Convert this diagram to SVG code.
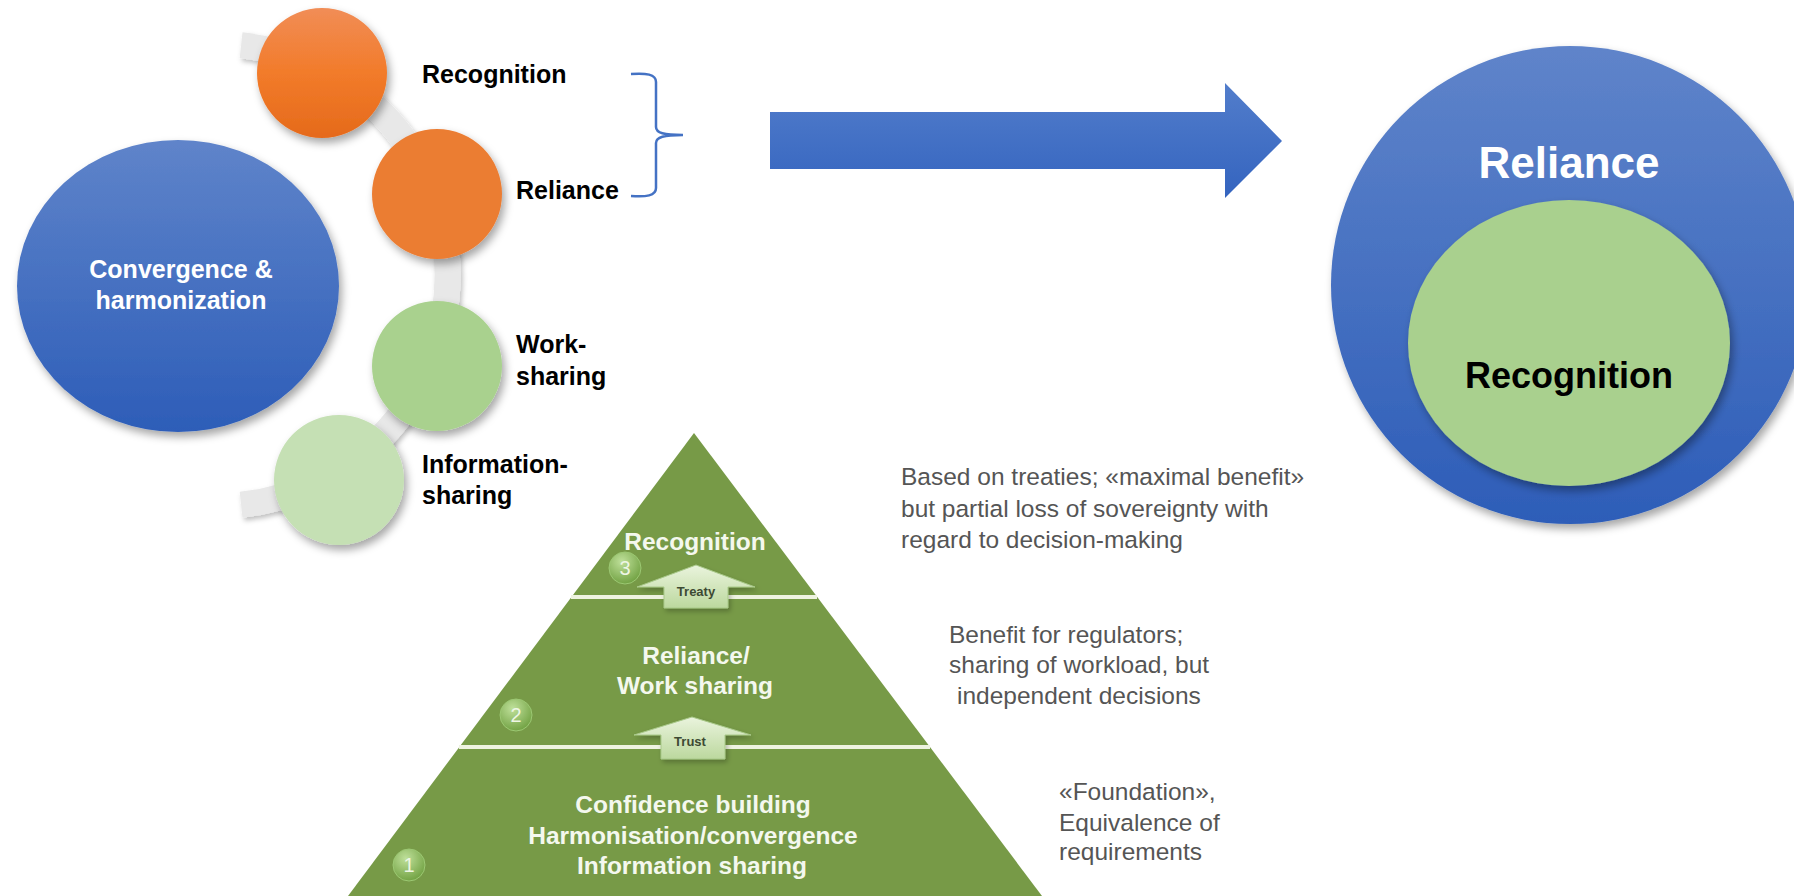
<svg xmlns="http://www.w3.org/2000/svg" width="1794" height="896" viewBox="0 0 1794 896">
  <defs>
    <style>
      .lbl { font-family: "Liberation Sans", Arial, sans-serif; font-weight: bold; font-size: 25px; fill: #000; }
      .inner { font-family: "Liberation Sans", Arial, sans-serif; font-weight: bold; fill: #fff; text-anchor: middle; }
      .pyr { font-family: "Liberation Sans", Arial, sans-serif; font-weight: bold; font-size: 24.5px; fill: #f4f8ee; text-anchor: middle; }
      .note { font-family: "Liberation Sans", Arial, sans-serif; font-size: 24.5px; fill: #555; }
      .tag { font-family: "Liberation Sans", Arial, sans-serif; font-weight: bold; font-size: 13px; fill: #3d4a33; text-anchor: middle; }
      .num { font-family: "Liberation Sans", Arial, sans-serif; font-size: 20px; fill: #eef6e4; text-anchor: middle; }
      .divider { stroke: #eef3e0; stroke-width: 4; }
      .up { fill: url(#gUp); stroke: #a9c98a; stroke-width: 1; filter: url(#shLight); }
      .badge { fill: url(#gNum); stroke: #9cc873; stroke-width: 1; }
    </style>
    <linearGradient id="gBlue" x1="0" y1="0" x2="0" y2="1">
      <stop offset="0" stop-color="#5f84ca"/>
      <stop offset="1" stop-color="#2d5db8"/>
    </linearGradient>
    <linearGradient id="gOrange" x1="0" y1="0" x2="0" y2="1">
      <stop offset="0" stop-color="#f18d56"/>
      <stop offset="0.5" stop-color="#f27b2a"/>
      <stop offset="1" stop-color="#e56a1b"/>
    </linearGradient>
    <linearGradient id="gArrow" x1="0" y1="0" x2="0" y2="1">
      <stop offset="0" stop-color="#527dcb"/>
      <stop offset="1" stop-color="#3464bf"/>
    </linearGradient>
    <linearGradient id="gUp" x1="0" y1="0" x2="0" y2="1">
      <stop offset="0" stop-color="#eaf4dd"/>
      <stop offset="1" stop-color="#bcd89e"/>
    </linearGradient>
    <radialGradient id="gNum" cx="0.4" cy="0.3" r="0.75">
      <stop offset="0" stop-color="#bfe09a"/>
      <stop offset="1" stop-color="#6e9f3f"/>
    </radialGradient>
    <filter id="sh" x="-20%" y="-20%" width="150%" height="150%">
      <feDropShadow dx="3" dy="5" stdDeviation="4" flood-color="#000" flood-opacity="0.35"/>
    </filter>
    <filter id="shLight" x="-20%" y="-20%" width="150%" height="150%">
      <feDropShadow dx="2" dy="3" stdDeviation="2.5" flood-color="#000" flood-opacity="0.25"/>
    </filter>
  </defs>

  <rect width="1794" height="896" fill="#fff"/>

  <!-- connectors: the curved band behind the small circles, the brace and the big arrow -->
  <g id="connectors">
    <path d="M241.1,45.3 A231,231 0 0 1 241.1,504.7" fill="none" stroke="#e8e8e8" stroke-width="26" filter="url(#shLight)"/>
    <path d="M631,74 C646,73 656,74 656,82 L656,127 C656,133 664,135 683,135 C664,135 656,137 656,143 L656,188 C656,196 646,197 631,196" fill="none" stroke="#4472c4" stroke-width="2.5"/>
    <polygon points="770,112 1225,112 1225,83 1282,141 1225,198 1225,169 770,169" fill="url(#gArrow)"/>
  </g>

  <!-- left cluster -->
  <g id="node-convergence">
    <ellipse cx="178" cy="286" rx="161" ry="146" fill="url(#gBlue)" filter="url(#sh)"/>
    <text class="inner" x="181" y="278" font-size="25">Convergence &amp;</text>
    <text class="inner" x="181" y="309" font-size="25">harmonization</text>
  </g>

  <g id="node-recognition">
    <circle cx="322" cy="73" r="65" fill="url(#gOrange)" filter="url(#sh)"/>
    <text class="lbl" x="422" y="83">Recognition</text>
  </g>

  <g id="node-reliance">
    <circle cx="437" cy="194" r="65" fill="#eb7d33" filter="url(#sh)"/>
    <text class="lbl" x="516" y="199">Reliance</text>
  </g>

  <g id="node-worksharing">
    <circle cx="437" cy="366" r="65" fill="#a9d18e" filter="url(#sh)"/>
    <text class="lbl" x="516" y="353">Work-</text>
    <text class="lbl" x="516" y="385">sharing</text>
  </g>

  <g id="node-infosharing">
    <circle cx="339" cy="480" r="65" fill="#c5e0b4" filter="url(#sh)"/>
    <text class="lbl" x="422" y="473">Information-</text>
    <text class="lbl" x="422" y="504">sharing</text>
  </g>

  <!-- nested circles on the right -->
  <g id="node-reliance-outer">
    <circle cx="1570" cy="285" r="239" fill="url(#gBlue)" filter="url(#sh)"/>
    <text class="inner" x="1569" y="178" font-size="44">Reliance</text>
  </g>
  <g id="node-recognition-inner">
    <ellipse cx="1569" cy="343" rx="161" ry="143" fill="#a9d08e" filter="url(#sh)"/>
    <text class="lbl" x="1569" y="388" font-size="36" text-anchor="middle" style="font-size:36px">Recognition</text>
  </g>

  <!-- pyramid -->
  <g id="pyramid">
    <polygon points="694,433 1042,896 348,896" fill="#779a47"/>
    <line class="divider" x1="571" y1="597" x2="817" y2="597"/>
    <line class="divider" x1="459" y1="747" x2="930" y2="747"/>

    <g id="level-3">
      <text class="pyr" x="695" y="550">Recognition</text>
      <circle class="badge" cx="625" cy="568" r="16"/>
      <text class="num" x="625" y="575">3</text>
      <polygon class="up" points="637,587 696,565 755,587 728,587 728,608 664,608 664,587"/>
      <text class="tag" x="696" y="596">Treaty</text>
    </g>

    <g id="level-2">
      <text class="pyr" x="696" y="664">Reliance/</text>
      <text class="pyr" x="695" y="694">Work sharing</text>
      <circle class="badge" cx="516" cy="715" r="16"/>
      <text class="num" x="516" y="722">2</text>
      <polygon class="up" points="634,735 692,717 751,735 725,735 725,759 661,759 661,735"/>
      <text class="tag" x="690" y="746">Trust</text>
    </g>

    <g id="level-1">
      <text class="pyr" x="693" y="813">Confidence building</text>
      <text class="pyr" x="693" y="844">Harmonisation/convergence</text>
      <text class="pyr" x="692" y="874">Information sharing</text>
      <circle class="badge" cx="409" cy="865" r="16"/>
      <text class="num" x="409" y="872">1</text>
    </g>
  </g>

  <!-- level descriptions -->
  <g id="note-3">
    <text class="note" x="901" y="485">Based on treaties; «maximal benefit»</text>
    <text class="note" x="901" y="517">but partial loss of sovereignty with</text>
    <text class="note" x="901" y="548">regard to decision-making</text>
  </g>
  <g id="note-2">
    <text class="note" x="949" y="643">Benefit for regulators;</text>
    <text class="note" x="949" y="673">sharing of workload, but</text>
    <text class="note" x="957" y="704">independent decisions</text>
  </g>
  <g id="note-1">
    <text class="note" x="1059" y="800">«Foundation»,</text>
    <text class="note" x="1059" y="831">Equivalence of</text>
    <text class="note" x="1059" y="860">requirements</text>
  </g>
</svg>
